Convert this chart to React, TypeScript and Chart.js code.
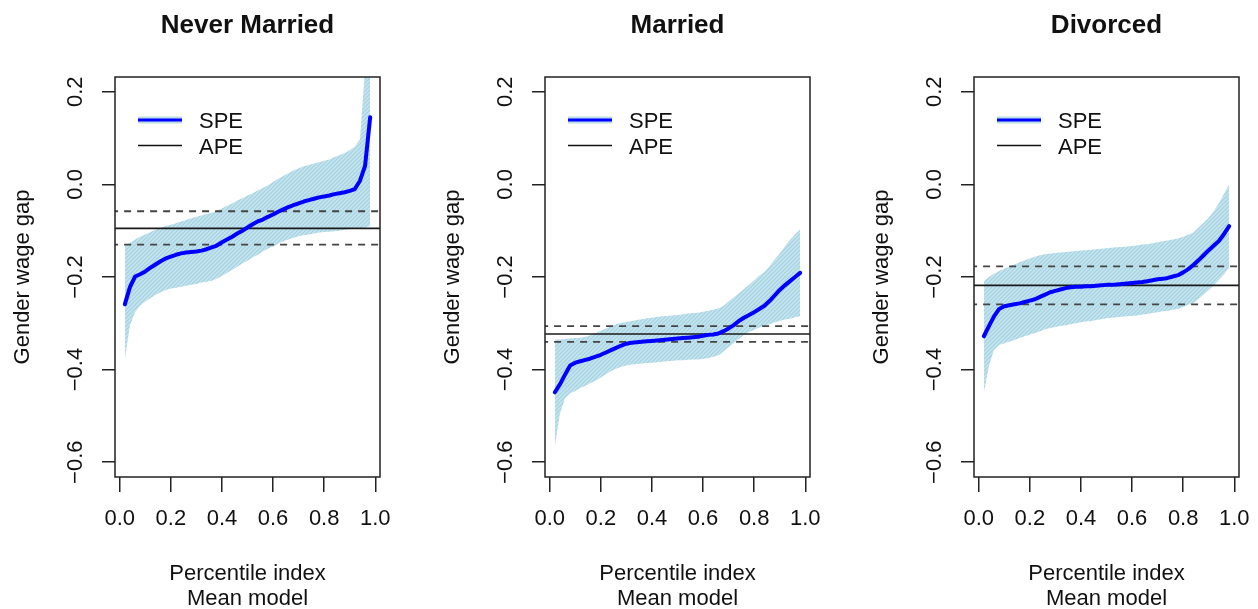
import React, { useEffect, useRef } from 'react';
import { Chart, registerables } from 'chart.js';

Chart.register(...registerables);

const PCT = [
  0.02, 0.04, 0.06, 0.08, 0.10, 0.12, 0.14, 0.16, 0.18, 0.20,
  0.22, 0.24, 0.26, 0.28, 0.30, 0.32, 0.34, 0.36, 0.38, 0.40,
  0.42, 0.44, 0.46, 0.48, 0.50, 0.52, 0.54, 0.56, 0.58, 0.60,
  0.62, 0.64, 0.66, 0.68, 0.70, 0.72, 0.74, 0.76, 0.78, 0.80,
  0.82, 0.84, 0.86, 0.88, 0.90, 0.92, 0.94, 0.96, 0.98,
];

const X_TICKS = [0, 0.2, 0.4, 0.6, 0.8, 1.0];
const Y_TICKS = [-0.6, -0.4, -0.2, 0, 0.2];
const X_LIMITS = [-0.0184, 1.0184];
const Y_LIMITS = [-0.632, 0.232];

// ---- Never Married ----
const NM_SPE = [
  -0.259, -0.222, -0.199, -0.194, -0.188, -0.180, -0.173, -0.166, -0.160, -0.156,
  -0.152, -0.149, -0.147, -0.146, -0.145, -0.143, -0.140, -0.136, -0.132, -0.125,
  -0.119, -0.113, -0.106, -0.100, -0.093, -0.086, -0.080, -0.076, -0.070, -0.065,
  -0.059, -0.054, -0.049, -0.045, -0.041, -0.037, -0.034, -0.031, -0.028, -0.026,
  -0.024, -0.021, -0.019, -0.017, -0.014, -0.010, 0.008, 0.040, 0.145,
];
const NM_UPPER = [
  -0.133, -0.126, -0.119, -0.113, -0.108, -0.103, -0.098, -0.094, -0.090, -0.087,
  -0.084, -0.080, -0.077, -0.073, -0.070, -0.067, -0.064, -0.061, -0.057, -0.052,
  -0.046, -0.041, -0.035, -0.030, -0.024, -0.019, -0.013, -0.008, -0.002, 0.005,
  0.012, 0.018, 0.024, 0.030, 0.035, 0.039, 0.042, 0.045, 0.048, 0.051,
  0.054, 0.059, 0.063, 0.068, 0.074, 0.082, 0.097, 0.250, 0.350,
];
const NM_LOWER = [
  -0.378, -0.305, -0.276, -0.262, -0.253, -0.246, -0.239, -0.233, -0.228, -0.225,
  -0.223, -0.221, -0.219, -0.217, -0.215, -0.212, -0.210, -0.208, -0.204, -0.198,
  -0.191, -0.185, -0.178, -0.171, -0.165, -0.158, -0.152, -0.145, -0.139, -0.134,
  -0.128, -0.123, -0.119, -0.115, -0.112, -0.110, -0.108, -0.106, -0.104, -0.103,
  -0.102, -0.101, -0.100, -0.098, -0.097, -0.096, -0.095, -0.093, -0.090,
];
const NM_APE = [-0.095, -0.058, -0.130];

// ---- Married ----
const MA_SPE = [
  -0.449, -0.432, -0.411, -0.391, -0.385, -0.382, -0.379, -0.376, -0.372, -0.368,
  -0.363, -0.358, -0.353, -0.348, -0.344, -0.342, -0.341, -0.340, -0.339, -0.338,
  -0.337, -0.336, -0.335, -0.334, -0.333, -0.332, -0.331, -0.330, -0.329, -0.327,
  -0.325, -0.324, -0.322, -0.317, -0.311, -0.304, -0.295, -0.288, -0.282, -0.276,
  -0.269, -0.262, -0.252, -0.240, -0.228, -0.218, -0.209, -0.200, -0.191,
];
const MA_UPPER = [
  -0.335, -0.335, -0.334, -0.333, -0.332, -0.331, -0.329, -0.326, -0.321, -0.316,
  -0.311, -0.306, -0.302, -0.299, -0.297, -0.295, -0.293, -0.291, -0.289, -0.288,
  -0.286, -0.285, -0.284, -0.283, -0.282, -0.281, -0.279, -0.278, -0.277, -0.275,
  -0.273, -0.271, -0.268, -0.262, -0.253, -0.244, -0.235, -0.226, -0.217, -0.207,
  -0.197, -0.189, -0.176, -0.162, -0.149, -0.134, -0.120, -0.108, -0.097,
];
const MA_LOWER = [
  -0.566, -0.495, -0.462, -0.451, -0.446, -0.440, -0.435, -0.429, -0.424, -0.417,
  -0.410, -0.403, -0.398, -0.394, -0.391, -0.389, -0.388, -0.387, -0.386, -0.385,
  -0.384, -0.383, -0.382, -0.381, -0.380, -0.380, -0.379, -0.378, -0.378, -0.377,
  -0.375, -0.372, -0.369, -0.361, -0.352, -0.343, -0.334, -0.325, -0.319, -0.314,
  -0.309, -0.305, -0.302, -0.298, -0.295, -0.292, -0.290, -0.287, -0.285,
];
const MA_APE = [-0.323, -0.306, -0.340];

// ---- Divorced ----
const DI_SPE = [
  -0.328, -0.306, -0.285, -0.269, -0.263, -0.261, -0.259, -0.257, -0.254, -0.251,
  -0.248, -0.243, -0.238, -0.233, -0.230, -0.227, -0.224, -0.222, -0.221, -0.221,
  -0.220, -0.220, -0.219, -0.218, -0.217, -0.217, -0.216, -0.215, -0.214, -0.213,
  -0.212, -0.211, -0.209, -0.207, -0.205, -0.204, -0.202, -0.199, -0.196, -0.190,
  -0.183, -0.174, -0.164, -0.153, -0.142, -0.132, -0.122, -0.107, -0.090,
];
const DI_UPPER = [
  -0.209, -0.200, -0.193, -0.187, -0.182, -0.178, -0.173, -0.168, -0.164, -0.160,
  -0.156, -0.153, -0.151, -0.149, -0.148, -0.147, -0.146, -0.145, -0.144, -0.143,
  -0.142, -0.141, -0.140, -0.139, -0.138, -0.137, -0.136, -0.135, -0.134, -0.133,
  -0.132, -0.130, -0.129, -0.127, -0.125, -0.123, -0.121, -0.119, -0.117, -0.113,
  -0.109, -0.104, -0.093, -0.083, -0.072, -0.058, -0.040, -0.020, 0.000,
];
const DI_LOWER = [
  -0.450, -0.393, -0.357, -0.347, -0.343, -0.340, -0.336, -0.332, -0.328, -0.325,
  -0.321, -0.317, -0.313, -0.310, -0.308, -0.306, -0.304, -0.302, -0.300, -0.298,
  -0.296, -0.295, -0.293, -0.291, -0.289, -0.288, -0.287, -0.286, -0.285, -0.284,
  -0.283, -0.281, -0.280, -0.278, -0.276, -0.274, -0.273, -0.271, -0.269, -0.265,
  -0.260, -0.256, -0.248, -0.238, -0.228, -0.218, -0.206, -0.194, -0.180,
];
const DI_APE = [-0.218, -0.177, -0.259];

const TITLES = ['Never Married', 'Married', 'Divorced'];
const LEGEND_LABELS = ['SPE', 'APE'];
const Y_LABEL = 'Gender wage gap';
const X_LABEL_LINES = ['Percentile index', 'Mean model'];

const PANELS = [
  { title: TITLES[0], spe: NM_SPE, upper: NM_UPPER, lower: NM_LOWER, ape: NM_APE, left: 0 },
  { title: TITLES[1], spe: MA_SPE, upper: MA_UPPER, lower: MA_LOWER, ape: MA_APE, left: 430 },
  { title: TITLES[2], spe: DI_SPE, upper: DI_UPPER, lower: DI_LOWER, ape: DI_APE, left: 859 },
];

const FONT = '"Liberation Sans", Arial, Helvetica, sans-serif';
const PANEL_W = 430;
const PANEL_H = 609;

function fmt(v: number): string {
  const s = Math.abs(v).toFixed(1);
  return v < -1e-9 ? '\u2212' + s : s;
}

function makeHatch(): CanvasPattern | string {
  const c = document.createElement('canvas');
  c.width = 4;
  c.height = 4;
  const g = c.getContext('2d');
  if (!g) return '#bfe0ea';
  g.fillStyle = '#c8e6ef';
  g.fillRect(0, 0, 4, 4);
  g.strokeStyle = '#a6d3e2';
  g.lineWidth = 1.3;
  g.beginPath();
  g.moveTo(0, 4); g.lineTo(4, 0);
  g.moveTo(-1, 1); g.lineTo(1, -1);
  g.moveTo(3, 5); g.lineTo(5, 3);
  g.stroke();
  const p = g.createPattern(c, 'repeat');
  return p || '#bfe0ea';
}

type PanelDef = typeof PANELS[number];

function Panel({ def }: { def: PanelDef }) {
  const ref = useRef<HTMLCanvasElement | null>(null);

  useEffect(() => {
    if (!ref.current) return;
    const hatch = makeHatch();
    const xy = (arr: number[]) => PCT.map((x, i) => ({ x, y: arr[i] }));
    const hline = (v: number) => [{ x: -1, y: v }, { x: 2, y: v }];

    const decor = {
      id: 'rdecor',
      afterDraw(chart: any) {
        const ctx = chart.ctx as CanvasRenderingContext2D;
        const a = chart.chartArea;
        const xs = chart.scales.x;
        const ys = chart.scales.y;
        const cx = (a.left + a.right) / 2;
        const cy = (a.top + a.bottom) / 2;
        ctx.save();
        // box
        ctx.strokeStyle = '#222';
        ctx.lineWidth = 1.5;
        ctx.strokeRect(a.left, a.top, a.right - a.left, a.bottom - a.top);

        ctx.fillStyle = '#111';
        // title
        ctx.font = `bold 26px ${FONT}`;
        ctx.textAlign = 'center';
        ctx.textBaseline = 'alphabetic';
        ctx.fillText(def.title, cx, 33);

        // x tick labels
        ctx.font = `22px ${FONT}`;
        X_TICKS.forEach((v) => {
          ctx.fillText(fmt(v), xs.getPixelForValue(v), 525);
        });
        // x label
        ctx.fillText(X_LABEL_LINES[0], cx, 580);
        ctx.fillText(X_LABEL_LINES[1], cx, 605);

        // y tick labels (rotated)
        Y_TICKS.forEach((v) => {
          ctx.save();
          ctx.translate(82, ys.getPixelForValue(v));
          ctx.rotate(-Math.PI / 2);
          ctx.fillText(fmt(v), 0, 0);
          ctx.restore();
        });
        // y label
        ctx.save();
        ctx.translate(28.5, cy);
        ctx.rotate(-Math.PI / 2);
        ctx.fillText(Y_LABEL, 0, 0);
        ctx.restore();

        // legend
        const lx0 = a.left + 23;
        const lx1 = a.left + 67;
        const y1 = 120;
        const y2 = 145.5;
        ctx.lineCap = 'butt';
        ctx.strokeStyle = '#b9dce8';
        ctx.lineWidth = 7;
        ctx.beginPath(); ctx.moveTo(lx0, y1); ctx.lineTo(lx1, y1); ctx.stroke();
        ctx.strokeStyle = '#0000ff';
        ctx.lineWidth = 3;
        ctx.beginPath(); ctx.moveTo(lx0, y1); ctx.lineTo(lx1, y1); ctx.stroke();
        ctx.strokeStyle = '#111';
        ctx.lineWidth = 1.6;
        ctx.beginPath(); ctx.moveTo(lx0, y2); ctx.lineTo(lx1, y2); ctx.stroke();
        ctx.textAlign = 'left';
        ctx.fillText(LEGEND_LABELS[0], a.left + 84, 128);
        ctx.fillText(LEGEND_LABELS[1], a.left + 84, 153.5);
        ctx.restore();
      },
    };

    const chart = new Chart(ref.current, {
      type: 'line',
      data: {
        datasets: [
          {
            label: 'SPE', data: xy(def.spe), borderColor: '#0000ff', borderWidth: 4,
            pointRadius: 0, fill: false, tension: 0, order: 0, borderJoinStyle: 'round', borderCapStyle: 'round',
          },
          {
            label: 'APE', data: hline(def.ape[0]), borderColor: '#1a1a1a', borderWidth: 1.6,
            pointRadius: 0, fill: false, order: 1,
          },
          {
            label: 'APE hi', data: hline(def.ape[1]), borderColor: '#444', borderWidth: 1.8,
            borderDash: [7, 6], pointRadius: 0, fill: false, order: 1,
          },
          {
            label: 'APE lo', data: hline(def.ape[2]), borderColor: '#444', borderWidth: 1.8,
            borderDash: [7, 6], pointRadius: 0, fill: false, order: 1,
          },
          {
            label: 'upper', data: xy(def.upper), borderWidth: 0, borderColor: 'rgba(0,0,0,0)',
            backgroundColor: hatch as any, pointRadius: 0, fill: '+1', tension: 0, order: 3,
          },
          {
            label: 'lower', data: xy(def.lower), borderWidth: 0, borderColor: 'rgba(0,0,0,0)',
            pointRadius: 0, fill: false, tension: 0, order: 4,
          },
        ] as any,
      },
      options: {
        animation: false,
        responsive: false,
        devicePixelRatio: 1,
        events: [],
        layout: { padding: { left: 0, right: 50, top: 77, bottom: 0 } },
        plugins: { legend: { display: false }, tooltip: { enabled: false }, title: { display: false } },
        scales: {
          x: {
            type: 'linear', min: X_LIMITS[0], max: X_LIMITS[1],
            afterBuildTicks: (s: any) => { s.ticks = X_TICKS.map((v) => ({ value: v })); },
            afterFit: (s: any) => { s.height = PANEL_H - 477; },
            ticks: { display: false },
            grid: { drawOnChartArea: false, drawTicks: true, tickLength: 15, color: '#222', lineWidth: 1.5 },
            border: { display: false },
          },
          y: {
            type: 'linear', min: Y_LIMITS[0], max: Y_LIMITS[1],
            afterBuildTicks: (s: any) => { s.ticks = Y_TICKS.map((v) => ({ value: v })); },
            afterFit: (s: any) => { s.width = 115; },
            ticks: { display: false },
            grid: { drawOnChartArea: false, drawTicks: true, tickLength: 13, color: '#222', lineWidth: 1.5 },
            border: { display: false },
          },
        },
      } as any,
      plugins: [decor],
    });
    return () => chart.destroy();
  }, [def]);

  return (
    <canvas
      ref={ref}
      width={PANEL_W}
      height={PANEL_H}
      style={{ position: 'absolute', left: def.left, top: 0, width: PANEL_W, height: PANEL_H, display: 'block' }}
    />
  );
}

export default function App() {
  return (
    <div
      style={{
        position: 'absolute', left: 0, top: 0, width: 1258, height: 609,
        overflow: 'hidden', background: '#ffffff',
      }}
    >
      {PANELS.map((p) => (
        <Panel key={p.title} def={p} />
      ))}
    </div>
  );
}
